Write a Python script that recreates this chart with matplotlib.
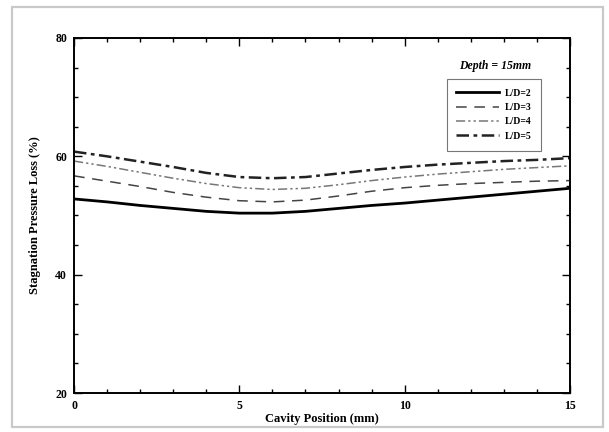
import matplotlib
matplotlib.use("Agg")
import matplotlib.pyplot as plt
from matplotlib.ticker import MultipleLocator
from matplotlib.patches import Rectangle

# Cavity position (mm)
position = [0, 1, 2, 3, 4, 5, 6, 7, 8, 9, 10, 11, 12, 13, 14, 15]

# Stagnation pressure loss (%) for each cavity L/D ratio
loss_ld2 = [52.8, 52.3, 51.7, 51.2, 50.7, 50.4, 50.4, 50.7, 51.2, 51.7, 52.1, 52.6, 53.1, 53.6, 54.1, 54.6]
loss_ld3 = [56.7, 55.8, 54.9, 53.9, 53.1, 52.5, 52.3, 52.6, 53.3, 54.1, 54.7, 55.1, 55.4, 55.6, 55.8, 55.9]
loss_ld4 = [59.2, 58.3, 57.3, 56.3, 55.4, 54.7, 54.4, 54.6, 55.2, 55.9, 56.5, 57.0, 57.4, 57.8, 58.1, 58.4]
loss_ld5 = [60.8, 60.0, 59.1, 58.2, 57.2, 56.5, 56.3, 56.5, 57.1, 57.7, 58.2, 58.6, 58.9, 59.2, 59.4, 59.7]

series_labels = ["L/D=2", "L/D=3", "L/D=4", "L/D=5"]
x_ticks = [0, 5, 10, 15]
y_ticks = [20, 40, 60, 80]

plt.rcParams["font.family"] = ["Liberation Serif", "DejaVu Serif"]

fig = plt.figure(figsize=(6.09, 4.32), dpi=100)
fig.patch.set_facecolor("white")

# light frame around the whole figure
fig.patches.append(Rectangle((12 / 609, 5 / 432), 591 / 609, 420 / 432,
                             transform=fig.transFigure, fill=False,
                             edgecolor="#c9c9c9", linewidth=1.6))

ax = fig.add_axes([74 / 609, 39 / 432, 496 / 609, 355 / 432])

ax.plot(position, loss_ld2, color="black", lw=2.0, ls="-", label=series_labels[0])
ax.plot(position, loss_ld3, color="#444444", lw=1.1, ls=(0, (7, 5)), label=series_labels[1])
ax.plot(position, loss_ld4, color="#777777", lw=1.1, ls=(0, (6, 2, 1.5, 2, 1.5, 2)), label=series_labels[2])
ax.plot(position, loss_ld5, color="#222222", lw=1.8, ls=(0, (5, 1.8, 1.5, 1.8)), label=series_labels[3])

ax.set_xlim(0, 15)
ax.set_ylim(20, 80)
ax.set_xticks(x_ticks)
ax.set_yticks(y_ticks)
ax.xaxis.set_minor_locator(MultipleLocator(1))
ax.yaxis.set_minor_locator(MultipleLocator(5))
ax.tick_params(which="both", direction="in", top=True, right=True,
               labelsize=8.5, width=1.0, pad=5)
ax.tick_params(which="major", length=6)
ax.tick_params(which="minor", length=3)
for lab in ax.get_xticklabels() + ax.get_yticklabels():
    lab.set_fontweight("bold")
for sp in ax.spines.values():
    sp.set_linewidth(1.4)

ax.set_xlabel("Cavity Position (mm)", fontsize=9, fontweight="bold", labelpad=1)
ax.set_ylabel("Stagnation Pressure Loss (%)", fontsize=9, fontweight="bold", labelpad=10)

ax.text(0.85, 0.92, "Depth = 15mm", transform=ax.transAxes, fontsize=8.5,
        fontweight="bold", fontstyle="italic", ha="center", va="center")

leg = ax.legend(loc="upper right", bbox_to_anchor=(0.952, 0.898), fontsize=7,
                frameon=True, fancybox=False, edgecolor="#555555",
                handlelength=4.4, borderpad=1.0, labelspacing=0.55,
                handletextpad=0.6)
leg.get_frame().set_linewidth(0.8)
for t in leg.get_texts():
    t.set_fontweight("bold")

fig.savefig("out.png", dpi=100, facecolor="white")
